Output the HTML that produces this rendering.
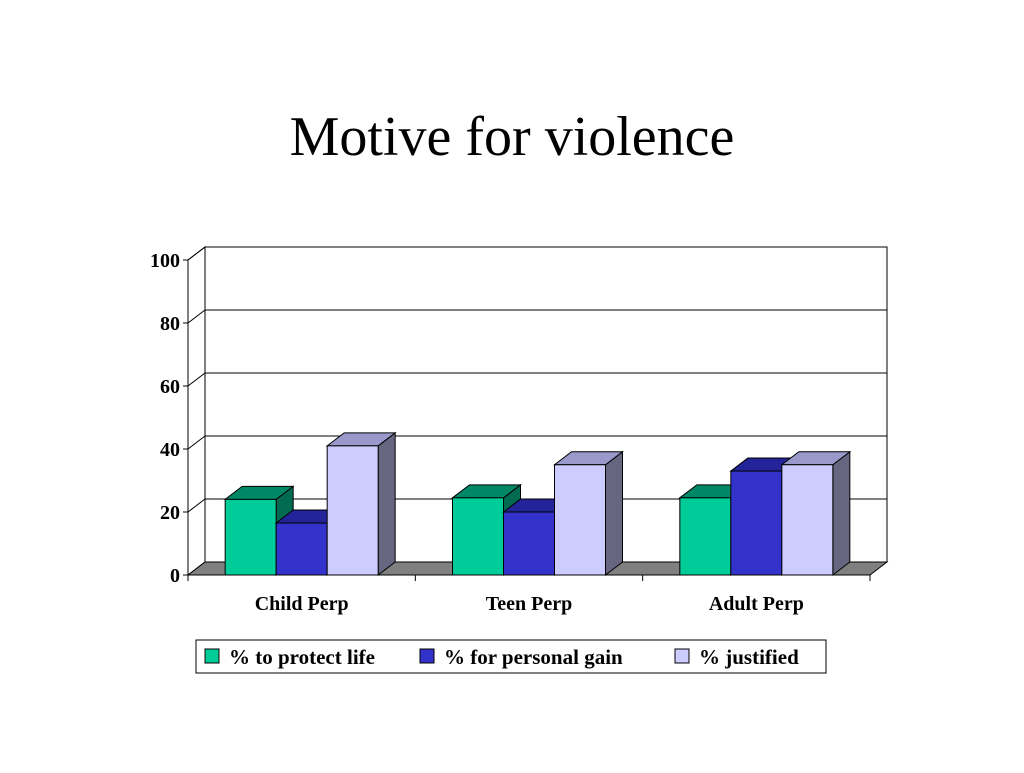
<!DOCTYPE html>
<html><head><meta charset="utf-8"><style>
body{margin:0;background:#fff;width:1024px;height:768px;overflow:hidden;font-family:"Liberation Serif",serif}
svg text{font-family:"Liberation Serif",serif}
</style></head><body>
<svg id="c" width="1024" height="768">
<text x="512" y="155" text-anchor="middle" font-size="56">Motive for violence</text>
</svg>
<script>
const categories=["Child Perp","Teen Perp","Adult Perp"];
const seriesNames=["% to protect life","% for personal gain","% justified"];
const protectLife=[24,24.5,24.5];
const personalGain=[16.5,20,33];
const justified=[41,35,35];
const yTicks=[0,20,40,60,80,100];
const svg=document.getElementById('c');const NS='http://www.w3.org/2000/svg';
function el(t,a,p){const e=document.createElementNS(NS,t);for(const k in a)e.setAttribute(k,a[k]);(p||svg).appendChild(e);return e;}
const X0=188,X1=870,Y0=575,Y100=260,DX=17,DY=-13;
const y=v=>Y0-(v/100)*(Y0-Y100);
const catW=(X1-X0)/categories.length;
// back wall
let w=el('polygon',{points:`${X0+DX},${y(100)+DY} ${X1+DX},${y(100)+DY} ${X1+DX},${Y0+DY} ${X0+DX},${Y0+DY}`,fill:'#fff',stroke:'#000','stroke-width':1});

// side wall
el('polygon',{points:`${X0},${y(100)} ${X0+DX},${y(100)+DY} ${X0+DX},${Y0+DY} ${X0},${Y0}`,fill:'#fff',stroke:'#000','stroke-width':1});
yTicks.forEach(t=>{
  if(t>0){const g=el('line',{x1:X0+DX,y1:y(t)+DY,x2:X1+DX,y2:y(t)+DY,stroke:'#000','stroke-width':1});
  
  el('line',{x1:X0,y1:y(t),x2:X0+DX,y2:y(t)+DY,stroke:'#000'});}
  el('line',{x1:X0-5,y1:y(t),x2:X0,y2:y(t),stroke:'#000'});
  const l=el('text',{x:X0-8,y:y(t)+7,'text-anchor':'end','font-size':20,'font-weight':'bold'});l.textContent=t;
  
});
// floor
const fl=el('polygon',{points:`${X0},${Y0} ${X0+DX},${Y0+DY} ${X1+DX},${Y0+DY} ${X1},${Y0}`,fill:'#808080',stroke:'#000'});

el('line',{x1:X0,y1:y(100),x2:X0,y2:Y0,stroke:'#000'});
el('line',{x1:X0,y1:Y0,x2:X1,y2:Y0,stroke:'#000'});
for(let i=0;i<=categories.length;i++)el('line',{x1:X0+i*catW,y1:Y0,x2:X0+i*catW,y2:Y0+6,stroke:'#000'});
const series=[protectLife,personalGain,justified];
const cols=[['#00CC99','#008866','#006B50'],['#3333CC','#23239A','#1E1E80'],['#CCCCFF','#9999CC','#666680']];
const bw=51;
categories.forEach((c,i)=>{
  const cx=X0+catW*(i+0.5);const start=cx-bw*1.5;
  series.forEach((s,j)=>{
    const x=start+j*bw,t=y(s[i]);const g=el('g',{});
    
    el('polygon',{points:`${x+bw},${t} ${x+bw+DX},${t+DY} ${x+bw+DX},${Y0+DY} ${x+bw},${Y0}`,fill:cols[j][2],stroke:'#000'},g);
    el('polygon',{points:`${x},${t} ${x+DX},${t+DY} ${x+bw+DX},${t+DY} ${x+bw},${t}`,fill:cols[j][1],stroke:'#000'},g);
    el('rect',{x:x,y:t,width:bw,height:Y0-t,fill:cols[j][0],stroke:'#000'},g);
  });
  const l=el('text',{x:cx,y:610,'text-anchor':'middle','font-size':20,'font-weight':'bold'});l.textContent=c;
  
});
// legend
const lg=el('g',{});
el('rect',{x:196,y:640,width:630,height:33,fill:'#fff',stroke:'#000'},lg);
const lx=[205,420,675];
seriesNames.forEach((n,j)=>{
  const e=el('g',{},lg);
  el('rect',{x:lx[j],y:649,width:14,height:14,fill:cols[j][0],stroke:'#000'},e);
  const t=el('text',{x:lx[j]+24,y:664,'font-size':21,'font-weight':'bold'},e);t.textContent=n;
});
</script>
</body></html>
